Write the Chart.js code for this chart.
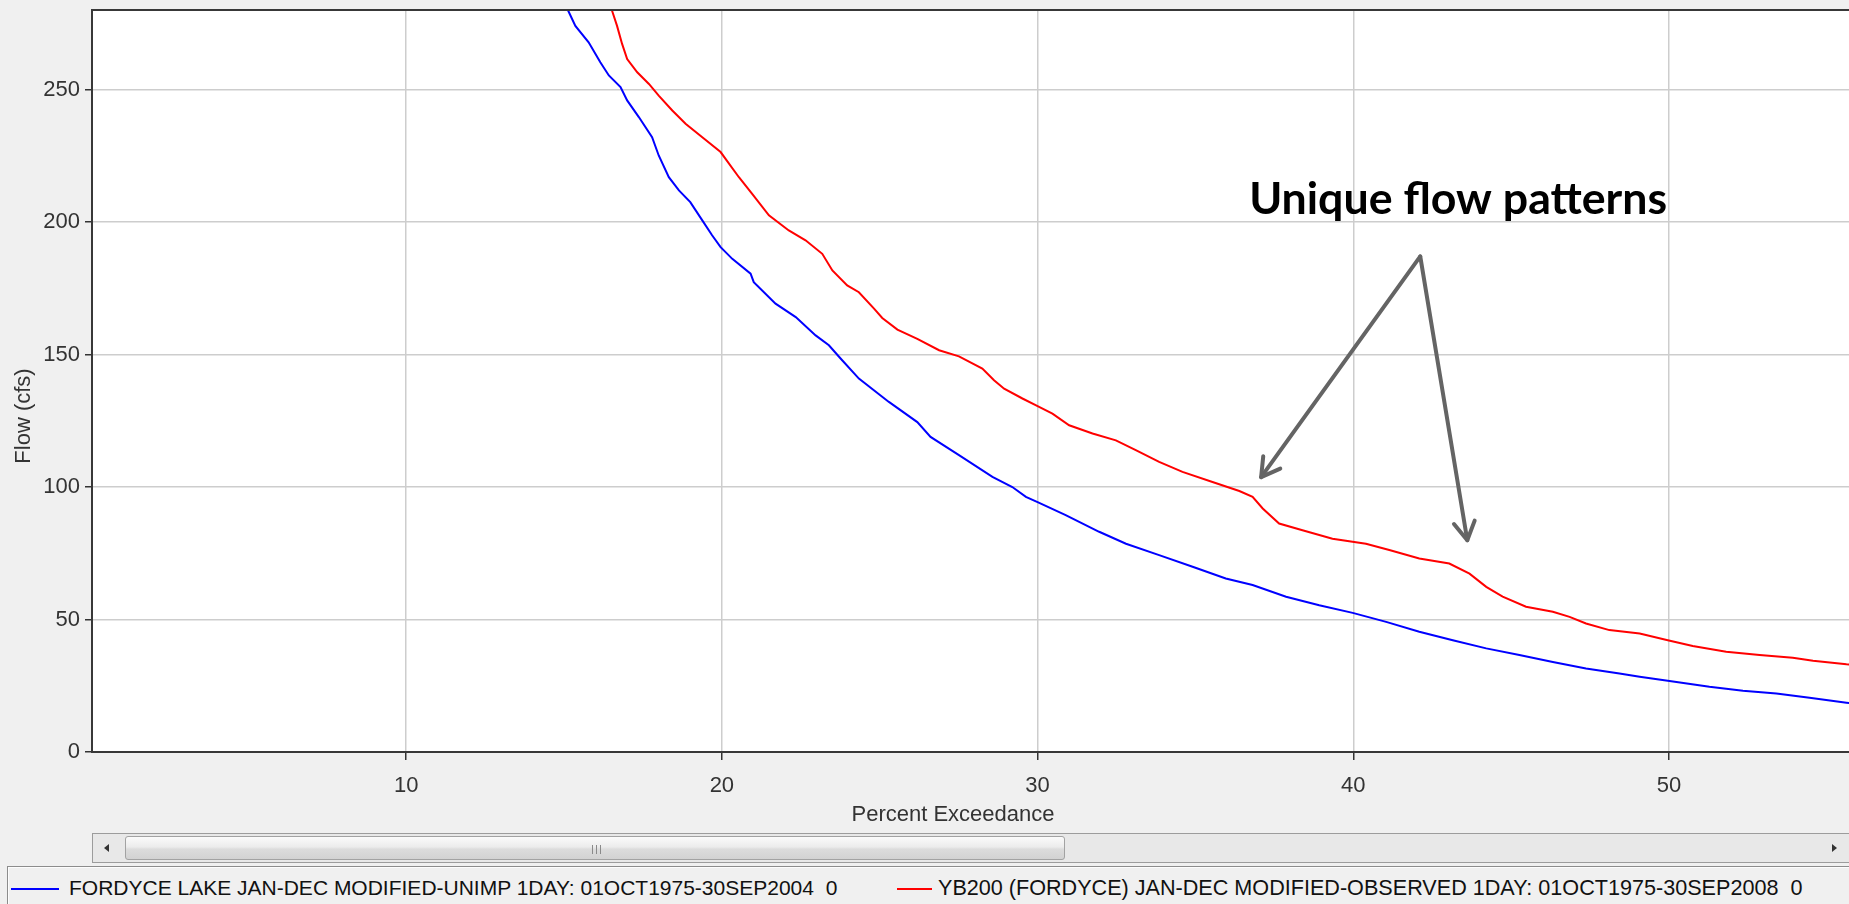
<!DOCTYPE html>
<html><head><meta charset="utf-8">
<script src="https://cdn.jsdelivr.net/npm/chart.js@4.4.1/dist/chart.umd.min.js"></script>
<style>
html,body{margin:0;padding:0;background:#f0f0f0;width:1849px;height:904px;overflow:hidden;font-family:"Liberation Sans",Arial,sans-serif;}
#wrap{position:absolute;left:0;top:0;width:1849px;height:830px;}
#scroll{position:absolute;left:92px;top:833px;width:1780px;height:28px;border:1px solid #9c9c9c;background:#e8e8e8;box-sizing:content-box;}
#thumb{position:absolute;left:32px;top:2px;width:938px;height:22px;border:1px solid #a2a2a2;border-radius:3px;background:linear-gradient(#fbfbfb,#ececec 45%,#dcdcdc 55%,#d2d2d2);}
.grip{position:absolute;top:8px;width:1px;height:9px;background:#8a8a8a;}
#larr{position:absolute;left:11px;top:10px;width:0;height:0;border-top:4px solid transparent;border-bottom:4px solid transparent;border-right:5px solid #333;}
#rarr{position:absolute;left:1739px;top:10px;width:0;height:0;border-top:4px solid transparent;border-bottom:4px solid transparent;border-left:5px solid #333;}
#legend{position:absolute;left:7px;top:866px;width:1900px;height:60px;border:1px solid #8c8c8c;box-shadow:inset 0 0 0 1px #fdfdfd;background:#f0f0f0;}
.lline{position:absolute;height:2px;top:21px;}
.ltext{position:absolute;top:9px;font-size:21px;line-height:24px;color:#111;white-space:pre;font-family:"Liberation Sans",Arial,sans-serif;}
</style>
</head><body>
<div id="wrap"><canvas id="c" width="1849" height="830"></canvas></div>
<div id="scroll"><div id="larr"></div><div id="thumb"><div class="grip" style="left:466px"></div><div class="grip" style="left:470px"></div><div class="grip" style="left:474px"></div></div><div id="rarr"></div></div>
<div id="legend"></div>
<script>
// ---- data ----
const blueX = [15.13,15.36,15.78,16.15,16.42,16.79,17.0,17.37,17.79,18.0,18.32,18.64,19.0,19.38,19.69,19.96,20.33,20.91,21.01,21.7,22.34,22.97,23.39,23.76,24.34,25.29,26.19,26.61,27.51,28.57,29.2,29.63,30.0,30.89,31.95,32.8,33.85,34.91,35.96,36.81,37.87,38.92,39.98,41.04,42.09,43.15,44.21,45.26,46.32,47.37,48.43,49.07,49.96,51.28,52.34,53.4,54.45,55.62,55.8];
const blueY = [279.8,274,267.8,260.3,255.3,250.9,245.9,239.6,232,225.1,216.9,211.9,207.5,200.6,195,190.5,186.1,180.5,177.3,169.2,164.1,157.2,153.5,148.5,140.9,132.1,124.5,118.9,112,103.8,100,96.3,94.3,89.4,83.1,78.6,74.3,69.9,65.5,63,58.6,55.4,52.5,49.1,45.4,42.2,39.1,36.6,34,31.5,29.6,28.4,26.9,24.6,23.1,22.1,20.5,18.6,18.3];
const redX = [16.52,16.68,16.84,17.0,17.32,17.69,18.0,18.43,18.85,19.38,19.96,20.54,20.96,21.49,22.12,22.65,23.18,23.5,23.97,24.34,24.82,25.08,25.56,26.19,26.88,27.51,28.25,28.62,28.94,29.52,30.0,30.47,31.0,31.74,32.48,33.11,33.85,34.59,35.54,36.39,36.81,37.13,37.65,38.39,39.34,40.4,41.14,42.09,43.04,43.68,44.21,44.73,45.47,46.32,46.85,47.37,48.11,49.07,49.96,50.75,51.81,52.87,53.92,54.56,55.62,55.8];
const redY = [279.8,274,267.2,261.5,256.5,252.1,247.7,242.1,237.1,232,226.4,216.9,210.6,202.5,196.8,193.1,188,181.7,176.1,173.5,167.3,163.8,159.4,155.9,151.6,149.3,144.7,140.3,137.1,133.4,130.5,127.7,123.3,120.2,117.6,113.9,109.5,105.7,101.9,98.5,96.3,91.9,86.2,83.7,80.5,78.6,76.2,73,71.1,67.3,62.3,58.6,54.8,52.9,51,48.5,46,44.7,42.2,40,37.8,36.6,35.6,34.4,33.1,33];
const seriesNames = ["FORDYCE LAKE JAN-DEC MODIFIED-UNIMP 1DAY: 01OCT1975-30SEP2004  0","YB200 (FORDYCE) JAN-DEC MODIFIED-OBSERVED 1DAY: 01OCT1975-30SEP2008  0"];
const seriesColors = ["#0000ff","#ff0000"];
const xTickValues = [10,20,30,40,50];
const yTickValues = [0,50,100,150,200,250];
const xRange = [0.05,55.7];
const yRange = [0,280];
const xTitle = "Percent Exceedance";
const yTitle = "Flow (cfs)";
const noteText = "Unique flow patterns";
const noteAt = {x:36.7, y:203.2};
const arrowFrom = {x:42.12, y:187};
const arrowTips = [{x:37.08, y:103.7},{x:43.61, y:79.9}];

// ---- legend (HTML) ----
const legendPos = [{line:[3,51],text:61,size:21},{line:[889,924],text:930,size:21.6}];
const lg = document.getElementById('legend');
seriesNames.forEach((n,i)=>{
  const l=document.createElement('div'); l.className='lline';
  l.style.left=legendPos[i].line[0]+'px'; l.style.width=(legendPos[i].line[1]-legendPos[i].line[0])+'px'; l.style.background=seriesColors[i];
  const t=document.createElement('div'); t.className='ltext'; t.style.left=legendPos[i].text+'px'; t.style.fontSize=legendPos[i].size+'px'; t.textContent=n;
  lg.appendChild(l); lg.appendChild(t);
});

const toPts=(xs,ys)=>xs.map((x,i)=>({x:x,y:ys[i]}));
const FAM = '"Liberation Sans", Arial, sans-serif';
const FONT = {family:FAM, size:22};

const framePlugin = {
  id:'frame',
  beforeDraw(chart){
    const {ctx, chartArea:a} = chart;
    ctx.save(); ctx.fillStyle='#ffffff'; ctx.fillRect(a.left,a.top,a.right-a.left,a.bottom-a.top); ctx.restore();
  },
  afterDraw(chart){
    const {ctx, chartArea:a, scales:{x,y}} = chart;
    ctx.save();
    ctx.strokeStyle='#383838'; ctx.lineWidth=2;
    ctx.beginPath(); ctx.moveTo(a.right+4,a.top); ctx.lineTo(a.left,a.top); ctx.lineTo(a.left,a.bottom); ctx.lineTo(a.right+4,a.bottom); ctx.stroke();
    // axis titles
    ctx.fillStyle='#333'; ctx.font='22px '+FAM; ctx.textAlign='center'; ctx.textBaseline='middle';
    ctx.fillText(xTitle, 953, 815);
    ctx.save(); ctx.translate(24, 416); ctx.rotate(-Math.PI/2); ctx.fillText(yTitle, 0, 0); ctx.restore();
    // annotation text
    let size=46;
    ctx.font='bold '+size+'px Lato, "Open Sans", sans-serif';
    const w=ctx.measureText(noteText).width;
    size = size*418/w;
    ctx.font='bold '+size.toFixed(2)+'px Lato, "Open Sans", sans-serif';
    ctx.fillStyle='#000'; ctx.textBaseline='alphabetic'; ctx.textAlign='left';
    ctx.fillText(noteText, x.getPixelForValue(noteAt.x), y.getPixelForValue(noteAt.y));
    // arrows
    ctx.strokeStyle='#646464'; ctx.lineWidth=4; ctx.lineCap='round'; ctx.lineJoin='round';
    const fx=x.getPixelForValue(arrowFrom.x), fy=y.getPixelForValue(arrowFrom.y);
    arrowTips.forEach(t=>{
      const tx=x.getPixelForValue(t.x), ty=y.getPixelForValue(t.y);
      ctx.beginPath(); ctx.moveTo(fx,fy); ctx.lineTo(tx,ty); ctx.stroke();
      const ang=Math.atan2(fy-ty,fx-tx), L=21, sp=Math.PI/6;
      ctx.beginPath();
      ctx.moveTo(tx+L*Math.cos(ang+sp), ty+L*Math.sin(ang+sp));
      ctx.lineTo(tx,ty);
      ctx.lineTo(tx+L*Math.cos(ang-sp), ty+L*Math.sin(ang-sp));
      ctx.stroke();
    });
    ctx.restore();
  }
};

new Chart(document.getElementById('c'), {
  type:'line',
  data:{datasets:[
    {label:seriesNames[0], data:toPts(blueX,blueY), borderColor:seriesColors[0], borderWidth:2, pointRadius:0, tension:0, fill:false},
    {label:seriesNames[1], data:toPts(redX,redY), borderColor:seriesColors[1], borderWidth:2, pointRadius:0, tension:0, fill:false}
  ]},
  options:{
    responsive:false, animation:false, devicePixelRatio:1,
    layout:{padding:{top:10,left:0,right:0,bottom:0}},
    plugins:{legend:{display:false}, tooltip:{enabled:false}},
    scales:{
      x:{type:'linear', min:xRange[0], max:xRange[1],
        afterBuildTicks:s=>{s.ticks=xTickValues.map(v=>({value:v}));},
        afterFit:s=>{s.height=78; s.paddingLeft=0; s.paddingRight=0;},
        ticks:{font:FONT, color:'#333', padding:13, maxRotation:0, autoSkip:false},
        grid:{color:'#cdcdcd', lineWidth:1.5, tickLength:8, tickColor:'#333', tickWidth:1.5},
        border:{display:false},
        title:{display:false}
      },
      y:{type:'linear', min:yRange[0], max:yRange[1],
        afterBuildTicks:s=>{s.ticks=yTickValues.map(v=>({value:v}));},
        afterFit:s=>{s.width=92; s.paddingTop=0; s.paddingBottom=0;},
        ticks:{font:FONT, color:'#333', padding:5},
        grid:{color:'#cdcdcd', lineWidth:1.5, tickLength:7, tickColor:'#333', tickWidth:1.5},
        border:{display:false},
        title:{display:false}
      }
    }
  },
  plugins:[framePlugin]
});
</script>
</body></html>
